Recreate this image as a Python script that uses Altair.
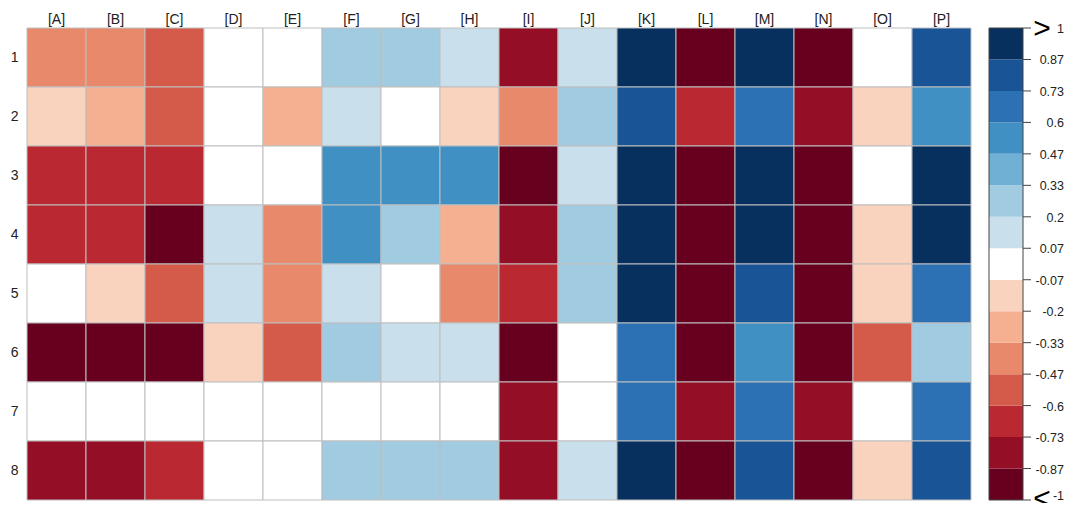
import altair as alt
import pandas as pd

columns = ["[A]", "[B]", "[C]", "[D]", "[E]", "[F]", "[G]", "[H]",
           "[I]", "[J]", "[K]", "[L]", "[M]", "[N]", "[O]", "[P]"]
rows = ["1", "2", "3", "4", "5", "6", "7", "8"]

row1 = [-0.4, -0.4, -0.53, 0, 0, 0.27, 0.27, 0.13, -0.8, 0.13, 0.93, -0.93, 0.93, -0.93, 0, 0.8]
row2 = [-0.13, -0.27, -0.53, 0, -0.27, 0.13, 0, -0.13, -0.4, 0.27, 0.8, -0.67, 0.67, -0.8, -0.13, 0.53]
row3 = [-0.67, -0.67, -0.67, 0, 0, 0.53, 0.53, 0.53, -0.93, 0.13, 0.93, -0.93, 0.93, -0.93, 0, 0.93]
row4 = [-0.67, -0.67, -0.93, 0.13, -0.4, 0.53, 0.27, -0.27, -0.8, 0.27, 0.93, -0.93, 0.93, -0.93, -0.13, 0.93]
row5 = [0, -0.13, -0.53, 0.13, -0.4, 0.13, 0, -0.4, -0.67, 0.27, 0.93, -0.93, 0.8, -0.93, -0.13, 0.67]
row6 = [-0.93, -0.93, -0.93, -0.13, -0.53, 0.27, 0.13, 0.13, -0.93, 0, 0.67, -0.93, 0.53, -0.93, -0.53, 0.27]
row7 = [0, 0, 0, 0, 0, 0, 0, 0, -0.8, 0, 0.67, -0.8, 0.67, -0.8, 0, 0.67]
row8 = [-0.8, -0.8, -0.67, 0, 0, 0.27, 0.27, 0.27, -0.8, 0.13, 0.93, -0.93, 0.8, -0.93, -0.13, 0.8]
matrix = [row1, row2, row3, row4, row5, row6, row7, row8]

# colour bins (bottom to top) and legend tick labels
bin_edges = [-1, -0.8667, -0.7333, -0.6, -0.4667, -0.3333, -0.2, -0.0667,
             0.0667, 0.2, 0.3333, 0.4667, 0.6, 0.7333, 0.8667, 1]
bin_colors = ["#67001F", "#940F26", "#BA2832", "#D45A4A", "#E8896C", "#F4B090",
              "#FAD3BF", "#FFFFFF", "#C9DFEC", "#A0CBE1", "#70B0D5", "#4190C4",
              "#2C71B3", "#185496", "#07305F"]
tick_labels = ["-1", "-0.87", "-0.73", "-0.6", "-0.47", "-0.33", "-0.2", "-0.07",
               "0.07", "0.2", "0.33", "0.47", "0.6", "0.73", "0.87", "1"]

cells = pd.DataFrame([
    {"col": c, "row": r, "value": matrix[i][j]}
    for i, r in enumerate(rows) for j, c in enumerate(columns)
])

legend_bins = pd.DataFrame({
    "lo": bin_edges[:-1],
    "hi": bin_edges[1:],
    "mid": [(a + b) / 2 for a, b in zip(bin_edges[:-1], bin_edges[1:])],
})
legend_ticks = pd.DataFrame({"v": bin_edges, "label": tick_labels})

color_scale = alt.Scale(type="threshold", domain=bin_edges[1:-1], range=bin_colors)

heat = alt.Chart(cells).mark_rect(stroke="#BEBEBE", strokeWidth=1).encode(
    x=alt.X("col:N", sort=columns, title=None,
            axis=alt.Axis(orient="top", labelAngle=0, ticks=False, domain=False,
                          labelPadding=2, labelFontSize=14, labelColor="#222",
                          labelFont="Liberation Sans")),
    y=alt.Y("row:N", sort=rows, title=None,
            axis=alt.Axis(ticks=False, domain=False, labelPadding=9,
                          labelFontSize=14, labelColor="#222",
                          labelFont="Liberation Sans")),
    color=alt.Color("value:Q", scale=color_scale, legend=None),
).properties(width=944, height=472)

# legend: y scale covers the colour bar, view is a little taller so "-1" shows
ybar = alt.Scale(domain=[-1, 1], range=[472, 0], nice=False, zero=False)

bar = alt.Chart(legend_bins).mark_rect().encode(
    x=alt.value(0), x2=alt.value(34),
    y=alt.Y("lo:Q", scale=ybar, axis=None),
    y2="hi:Q",
    color=alt.Color("mid:Q", scale=color_scale, legend=None),
)

outline = alt.Chart(pd.DataFrame({"lo": [-1], "hi": [1]})).mark_rect(
    fill=None, stroke="#444", strokeWidth=1
).encode(x=alt.value(0), x2=alt.value(34),
         y=alt.Y("lo:Q", scale=ybar, axis=None), y2="hi:Q")

ticks = alt.Chart(legend_ticks).mark_rule(color="#444", strokeWidth=1).encode(
    x=alt.value(34), x2=alt.value(42),
    y=alt.Y("v:Q", scale=ybar, axis=None),
)

labels_main = alt.Chart(legend_ticks).transform_filter("datum.v > -1").mark_text(
    fontSize=12.5, font="Liberation Sans", color="#222", align="right",
    baseline="middle", dy=1
).encode(x=alt.value(75), y=alt.Y("v:Q", scale=ybar, axis=None), text="label:N")

labels_end = alt.Chart(legend_ticks).transform_filter("datum.v <= -1").mark_text(
    fontSize=12.5, font="Liberation Sans", color="#222", align="right",
    baseline="middle", dy=-4, clip=True
).encode(x=alt.value(75), y=alt.Y("v:Q", scale=ybar, axis=None), text="label:N")

top_arrow = alt.Chart(pd.DataFrame({"pos": [1], "sym": [">"]})).mark_text(
    fontSize=30, font="Liberation Sans", color="#000", baseline="middle", dy=1
).encode(x=alt.value(53), y=alt.Y("pos:Q", scale=ybar, axis=None), text="sym:N")

bottom_arrow = alt.Chart(pd.DataFrame({"pos": [-1], "sym": ["<"]})).mark_text(
    fontSize=30, font="Liberation Sans", color="#000", baseline="middle", dy=-1,
    clip=True
).encode(x=alt.value(53), y=alt.Y("pos:Q", scale=ybar, axis=None), text="sym:N")

legend = alt.layer(bar, outline, ticks, labels_main, labels_end,
                   top_arrow, bottom_arrow).properties(width=75, height=475)

chart = alt.hconcat(heat, legend, spacing=18, bounds="flush").properties(
    padding={"left": 2, "top": 4, "right": 0, "bottom": 0}
).configure_view(stroke=None)

chart.save("out.html", embed_options={"renderer": "svg", "actions": False})
